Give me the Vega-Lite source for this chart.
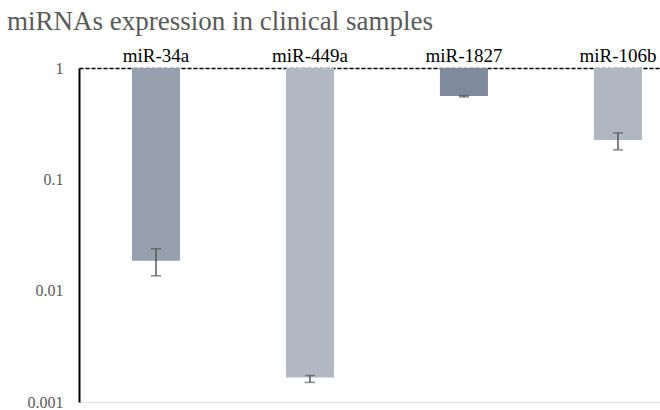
{
  "$schema": "https://vega.github.io/schema/vega-lite/v6.json",
  "autosize": "none",
  "width": 581,
  "height": 334,
  "padding": {"left": 79, "top": 68, "right": 0, "bottom": 8},
  "background": "white",
  "title": {
    "text": "miRNAs expression in clinical samples",
    "anchor": "start",
    "frame": "group",
    "font": "Liberation Serif",
    "fontSize": 27,
    "fontWeight": "normal",
    "color": "#595959",
    "dx": -72,
    "offset": 10
  },
  "data": {
    "values": [
      {"miRNA": "miR-34a", "value": 0.0186, "lo": 0.0136, "hi": 0.0238, "ref": 1},
      {"miRNA": "miR-449a", "value": 0.00166, "lo": 0.0015, "hi": 0.00173, "ref": 1},
      {"miRNA": "miR-1827", "value": 0.561, "lo": 0.55, "hi": 0.566, "ref": 1},
      {"miRNA": "miR-106b", "value": 0.226, "lo": 0.184, "hi": 0.261, "ref": 1}
    ]
  },
  "encoding": {
    "x": {
      "field": "miRNA",
      "type": "nominal",
      "sort": null,
      "scale": {"paddingInner": 0.688, "paddingOuter": 0.2305, "align": 0.746},
      "axis": {
        "orient": "top",
        "title": null,
        "labelAngle": 0,
        "labelFont": "Liberation Serif",
        "labelFontSize": 19,
        "labelColor": "#000000",
        "labelPadding": 3,
        "ticks": false,
        "domainColor": "#000000",
        "domainWidth": 1.5,
        "domainDash": [4, 2]
      }
    }
  },
  "layer": [
    {
      "mark": {"type": "bar"},
      "encoding": {
        "y": {
          "field": "value",
          "type": "quantitative",
          "scale": {"type": "log", "domain": [0.001, 1], "nice": false},
          "axis": {
            "title": null,
            "values": [0.001, 0.01, 0.1, 1],
            "format": "~g",
            "grid": false,
            "ticks": false,
            "labelFont": "Liberation Serif",
            "labelFontSize": 16,
            "labelColor": "#595959",
            "labelPadding": 16,
            "domainColor": "#000000",
            "domainWidth": 2
          }
        },
        "y2": {"field": "ref"},
        "color": {
          "field": "miRNA",
          "type": "nominal",
          "scale": {
            "domain": ["miR-34a", "miR-449a", "miR-1827", "miR-106b"],
            "range": ["#96a0ae", "#b2b9c4", "#7f8a9a", "#b0b7c3"]
          },
          "legend": null
        }
      }
    },
    {
      "mark": {"type": "rule", "color": "#595959", "strokeWidth": 1.5},
      "encoding": {
        "y": {"field": "lo", "type": "quantitative"},
        "y2": {"field": "hi"}
      }
    },
    {
      "mark": {"type": "tick", "color": "#595959", "thickness": 1.5, "size": 10, "orient": "horizontal"},
      "encoding": {
        "y": {"field": "lo", "type": "quantitative"}
      }
    },
    {
      "mark": {"type": "tick", "color": "#595959", "thickness": 1.5, "size": 10, "orient": "horizontal"},
      "encoding": {
        "y": {"field": "hi", "type": "quantitative"}
      }
    }
  ]
}
